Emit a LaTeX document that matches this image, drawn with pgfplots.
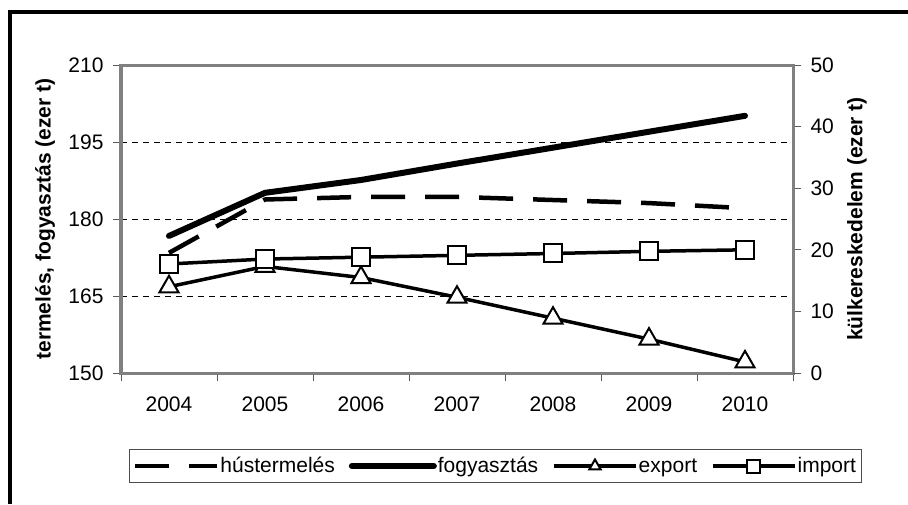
\documentclass[border=0pt]{standalone}
\usepackage{fontspec}
\setmainfont{Liberation Sans}
\usepackage{pgfplots}
\pgfplotsset{compat=1.18}

\definecolor{axisgray}{RGB}{128,128,128}
\newcommand{\chartfont}{\fontsize{21}{25}\selectfont}

\pgfplotsset{
  every axis/.append style={
    scale only axis, width=672pt, height=308pt,
    at={(121pt,131pt)}, anchor=south west,
    xmin=-0.5, xmax=6.5,
    tick align=outside,
    major tick length=8pt,
    tick style={black!65, line width=0.9pt},
    every tick label/.append style={font=\chartfont},
    label style={font=\chartfont\bfseries},
    /pgf/number format/assume math mode=true,
    axis line style={axisgray, line width=3pt},
    clip=false,
  },
}

\begin{document}
\begin{tikzpicture}
  \path[use as bounding box] (0pt,0pt) rectangle (908pt,504pt);
  \draw[line width=4.5pt] (9.8pt,0pt) -- (9.8pt,492pt) -- (908pt,492pt);

  % left axis: production and consumption
  \begin{axis}[
    ymin=150, ymax=210, ytick={150,165,...,210},
    ytick pos=left,
    yticklabel style={xshift=-6pt},
    xtick={-0.5,0.5,...,6.5}, xticklabels={},
    xtick pos=bottom,
    extra x ticks={0,1,2,3,4,5,6},
    extra x tick labels={2004,2005,2006,2007,2008,2009,2010},
    extra x tick style={major tick length=0pt,
      xticklabel style={yshift=-20pt}},
    ymajorgrids,
    grid style={black, line width=0.8pt, dash pattern=on 6pt off 5pt},
    ylabel={termelés, fogyasztás (ezer t)},
    ylabel style={at={(axis description cs:-0.113,0.5)}, anchor=center},
  ]
    \addplot[black, line width=4.5pt, dash pattern=on 34pt off 20pt]
      coordinates {(0,173.4) (1,183.8) (2,184.3) (3,184.3) (4,183.7) (5,183.1) (6,182.1)};
    \addplot[black, line width=6pt, line cap=round, line join=round]
      coordinates {(0,176.7) (1,185.1) (2,187.6) (3,190.8) (4,193.9) (5,197.0) (6,200.1)};
  \end{axis}

  % right axis: foreign trade
  \begin{axis}[
    ymin=0, ymax=50, ytick={0,10,...,50},
    ytick pos=right,
    yticklabel style={xshift=6pt},
    hide x axis,
    ylabel={külkereskedelem (ezer t)},
    ylabel style={at={(axis description cs:1.0952,0.5)}, anchor=center},
    legend style={at={(0.5565,-0.302)}, anchor=center, legend columns=4,
      draw=black!70, line width=0.9pt, font=\chartfont,
      inner xsep=4pt, inner ysep=6pt,
      /tikz/every even column/.append style={column sep=13pt},
      nodes={inner xsep=1pt, inner ysep=2pt}},
    legend image code/.code={\draw[mark repeat=2, mark phase=2, #1, mark size=6.5pt]
      plot coordinates {(0pt,0pt) (41pt,0pt) (82pt,0pt)};},
  ]
    \addlegendimage{black, line width=4.5pt, dash pattern=on 34pt off 20pt}
    \addlegendentry{hústermelés}
    \addlegendimage{black, line width=6pt, line cap=round}
    \addlegendentry{fogyasztás}
    \addplot[black, line width=3.5pt, mark=triangle*, mark size=11pt,
      mark options={fill=white, draw=black, line width=2pt, solid}]
      coordinates {(0,14.0) (1,17.3) (2,15.5) (3,12.3) (4,8.9) (5,5.5) (6,1.8)};
    \addlegendentry{export}
    \addplot[black, line width=3.5pt, mark=square*, mark size=9pt,
      mark options={fill=white, draw=black, line width=2pt, solid}]
      coordinates {(0,17.7) (1,18.5) (2,18.8) (3,19.1) (4,19.4) (5,19.75) (6,20.0)};
    \addlegendentry{import}
  \end{axis}
\end{tikzpicture}
\end{document}
